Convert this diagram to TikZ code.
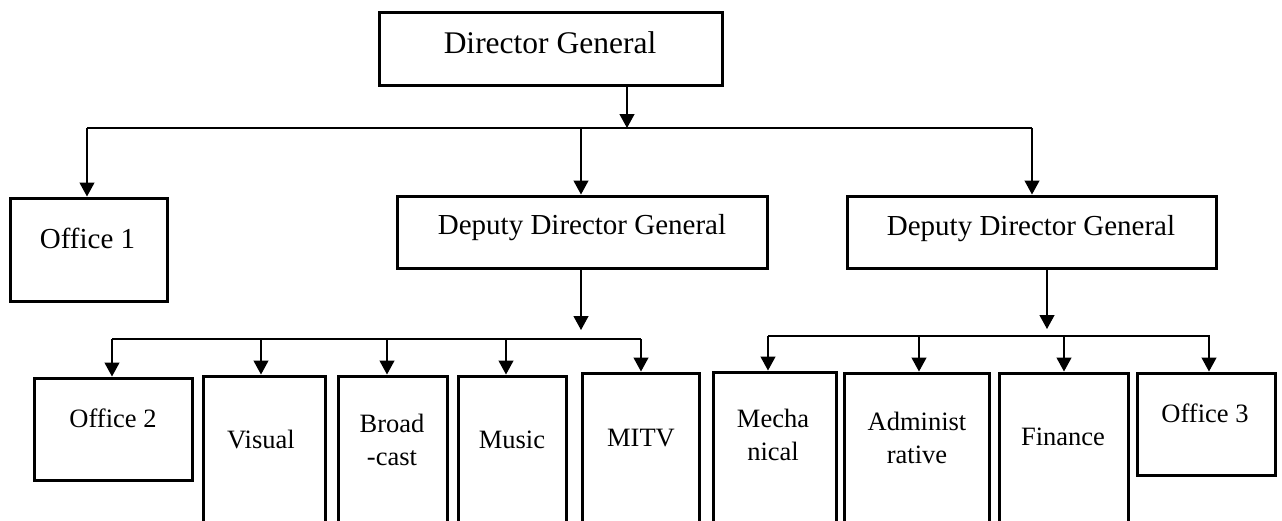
\documentclass[tikz,border=0pt]{standalone}
\usepackage{fontspec}
\setmainfont{Liberation Serif}
\usetikzlibrary{arrows.meta}
\tikzset{
  box/.style={draw=black, line width=3pt, inner sep=0pt},
  conn/.style={draw=black, line width=1.2pt},
  arr/.style={conn, -{Triangle[width=15pt,length=14pt]}},
  lbl/.style={anchor=base, inner sep=0pt, align=center},
  big/.style={lbl, font=\fontsize{31.5}{36}\selectfont},
  mid/.style={lbl, font=\fontsize{29}{34}\selectfont},
  small/.style={lbl, font=\fontsize{26.5}{33}\selectfont},
}
\begin{document}
\begin{tikzpicture}[x=1pt, y=-1pt]
\useasboundingbox (0,0) rectangle (1282,520);
\clip (0,0) rectangle (1282,520);

% ---- boxes ----
\node[box, minimum width=343, minimum height=73] (dg)   at (550.5,48.5) {};
\node[box, minimum width=157, minimum height=103] (off1) at (88.5,249.5) {};
\node[box, minimum width=370, minimum height=72] (ddgA) at (582,232) {};
\node[box, minimum width=369, minimum height=72] (ddgB) at (1031.5,232) {};

\node[box, minimum width=158, minimum height=102] (off2)   at (113,429) {};
\node[box, minimum width=122, minimum height=184] (visual) at (264,468) {};
\node[box, minimum width=109, minimum height=184] (broad)  at (392.5,468) {};
\node[box, minimum width=108, minimum height=184] (music)  at (512,468) {};
\node[box, minimum width=117, minimum height=187] (mitv)   at (640.5,466.5) {};
\node[box, minimum width=123, minimum height=188] (mech)   at (774.5,466) {};
\node[box, minimum width=145, minimum height=187] (admin)  at (916.5,466.5) {};
\node[box, minimum width=129, minimum height=187] (fin)    at (1063.5,466.5) {};
\node[box, minimum width=138, minimum height=102] (off3)   at (1206,424) {};

% ---- labels (two-line labels sit on the baseline of their last line) ----
\node[big] at (550,53) {Director General};
\node[mid] at (87.5,248) {Office 1};
\node[mid] at (582,234) {Deputy Director General};
\node[mid] at (1031,235) {Deputy Director General};
\node[small] at (113,427) {Office 2};
\node[small] at (261,448) {Visual};
\node[small] at (392,465) {Broad\\-cast};
\node[small] at (512,448) {Music};
\node[small] at (641,446) {MITV};
\node[small] at (773,460) {Mecha\\nical};
\node[small] at (917,463) {Administ\\rative};
\node[small] at (1063,445) {Finance};
\node[small] at (1205,422) {Office 3};

% ---- top level: Director General to its three units ----
\coordinate (tj)  at (627,128);
\coordinate (t1)  at (87,128);
\coordinate (t2)  at (581,128);
\coordinate (t3)  at (1032,128);
\draw[arr] (dg.south -| tj) -- (tj);
\draw[conn] (t1) -- (t3);
\draw[arr] (t1) -- (t1 |- off1.north);
\draw[arr] (t2) -- (t2 |- ddgA.north);
\draw[arr] (t3) -- (t3 |- ddgB.north);

% ---- first deputy and its five units ----
\coordinate (mj) at (581,330);
\coordinate (m1) at (112,339);
\coordinate (m2) at (261,339);
\coordinate (m3) at (387,339);
\coordinate (m4) at (506,339);
\coordinate (m5) at (641,339);
\draw[arr] (ddgA.south -| mj) -- (mj);
\draw[conn] (m1) -- (m5);
\draw[arr] (m1) -- (m1 |- off2.north);
\draw[arr] (m2) -- (m2 |- visual.north);
\draw[arr] (m3) -- (m3 |- broad.north);
\draw[arr] (m4) -- (m4 |- music.north);
\draw[arr] (m5) -- (m5 |- mitv.north);

% ---- second deputy and its four units ----
\coordinate (rj) at (1047,329);
\coordinate (r1) at (768,336);
\coordinate (r2) at (919,336);
\coordinate (r3) at (1064,336);
\coordinate (r4) at (1209,336);
\draw[arr] (ddgB.south -| rj) -- (rj);
\draw[conn] (r1) -- ([xshift=1pt]r4);
\draw[arr] (r1) -- (r1 |- mech.north);
\draw[arr] (r2) -- (r2 |- admin.north);
\draw[arr] (r3) -- (r3 |- fin.north);
\draw[arr] (r4) -- (r4 |- off3.north);
\end{tikzpicture}
\end{document}
